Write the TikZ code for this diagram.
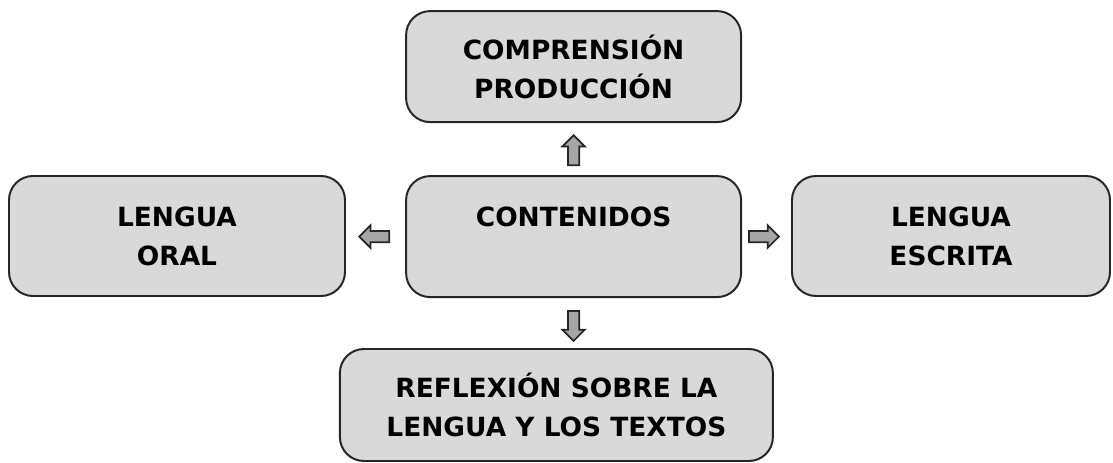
\documentclass[tikz,border=0pt]{standalone}
\usepackage{fontspec}
\setmainfont{DejaVu Sans}
\usepackage{xcolor}
\usepackage{tikz}
\usetikzlibrary{shapes,arrows,positioning}

\definecolor{boxgray}{HTML}{D9D9D9}
\definecolor{arrowgray}{HTML}{A6A6A6}
\definecolor{edgegray}{HTML}{262626}

\begin{document}
\begin{tikzpicture}[
    box/.style={rectangle, rounded corners=0.6cm, draw=edgegray, line width=1.4pt, fill=boxgray, align=center, inner sep=0pt, font=\fontsize{18.8}{27.7}\selectfont\bfseries},
    blockarrow/.style={single arrow, draw=edgegray, line width=1.2pt, fill=arrowgray, minimum height=0.75cm, single arrow head extend=0.14cm, inner sep=0.12cm}
]
    \useasboundingbox (0,0) rectangle (27.825,11.575);

    % Boxes
    \node[box, minimum width=8.375cm, minimum height=3.025cm] (cont) at (14.34, 5.66) {CONTENIDOS\\ \mbox{}};
    \node[box, minimum width=8.375cm, minimum height=2.775cm] (comp) at (14.34, 9.91) {COMPRENSIÓN\\PRODUCCIÓN};
    \node[box, minimum width=8.4cm, minimum height=3.0cm] (oral) at (4.425, 5.675) {LENGUA\\ORAL};
    \node[box, minimum width=7.95cm, minimum height=3.0cm] (escr) at (23.775, 5.675) {LENGUA\\ESCRITA};
    \node[box, minimum width=10.825cm, minimum height=2.8cm] (refl) at (13.91, 1.45) {REFLEXIÓN SOBRE LA\\LENGUA Y LOS TEXTOS};

    % Arrows
    \node[blockarrow, shape border rotate=90, anchor=tail] (up) at ([yshift=0.225cm]cont.north) {};
    \node[blockarrow, shape border rotate=270, anchor=tail] (down) at ([yshift=-0.3cm]cont.south) {};
    \node[blockarrow, shape border rotate=180, anchor=tail] (left) at ([xshift=-0.375cm]cont.west) {};
    \node[blockarrow, anchor=tail] (right) at ([xshift=0.15cm]cont.east) {};
\end{tikzpicture}
\end{document}
